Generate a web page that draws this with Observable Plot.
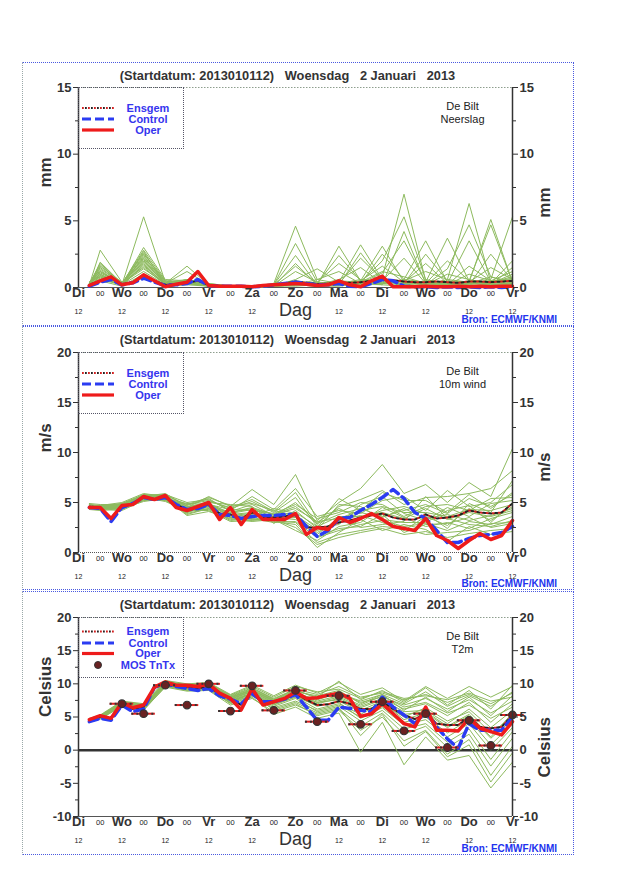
<!DOCTYPE html>
<html>
<head>
<meta charset="utf-8">
<script src="https://cdn.jsdelivr.net/npm/d3@7"></script>
<script src="https://cdn.jsdelivr.net/npm/@observablehq/plot@0.6"></script>
<style>
  body { margin: 0; background: #fff; font-family: "Liberation Sans", Arial, sans-serif; }
  #page { position: relative; width: 640px; height: 880px; }
  .panel { position: absolute; left: 22px; width: 550px; height: 262px; border: 1px dotted #4a5ae0; border-left: 1px dotted #9aa8a8; }
  .title { position: absolute; top: 5px; left: 0; width: 529px; text-align: center; font-weight: bold; font-size: 12.8px; color: #333; white-space: pre; }
  .bron { position: absolute; right: 16px; top: 251px; font-size: 10px; font-weight: bold; color: #2233ee; line-height: 12px; }
  .legend { position: absolute; left: 55px; border: 1px dotted #556; background: transparent; }
  .legend svg { display: block; }
</style>
</head>
<body>
<div id="page"></div>
<script>
// ---------- shared axes data ----------
const HOURS = [6,12,18,24,30,36,42,48,54,60,66,72,78,84,90,96,102,108,114,120,126,132,138,144,150,156,162,168,174,180,186,192,198,204,210,216,222,228,234,240];
const MEMBER_HOURS = [6,12,24,36,48,60,72,84,96,108,120,132,144,156,168,180,192,204,216,228,240];
const DAY_HOURS = [0,24,48,72,96,120,144,168,192,216,240];
const DAY_LABELS = ["Di","Wo","Do","Vr","Za","Zo","Ma","Di","Wo","Do","Vr"];
const MIDNIGHT_HOURS = [12,36,60,84,108,132,156,180,204,228];
const NOON_HOURS = [0,24,48,72,96,144,168,192,216,240];
const TITLE = "(Startdatum: 2013010112)   Woensdag   2 Januari   2013";

// ---------- Panel 1: Neerslag (mm) ----------
const rainMean = [0.2,0.5,0.7,0.25,0.4,0.9,0.5,0.2,0.25,0.35, 0.5,0.2,0.1,0.1,0.1,0.1,0.15,0.2,0.3,0.45, 0.35,0.25,0.3,0.4,0.35,0.4,0.5,0.6,0.55,0.45, 0.4,0.4,0.45,0.4,0.35,0.45,0.45,0.4,0.45,0.5];
const rainControl = [0.1,0.4,0.6,0.2,0.35,0.7,0.4,0.15,0.2,0.3, 0.6,0.15,0.1,0.1,0.1,0.05,0.1,0.2,0.3,0.4, 0.3,0.2,0.2,0.3,0.1,0.05,0.3,0.6,0.5,0.1, 0.05,0.05,0.0,0.05,0.0,0.05,0.0,0.05,0.0,0.05];
const rainOper = [0.15,0.5,0.8,0.2,0.35,0.95,0.5,0.05,0.25,0.4, 1.2,0.15,0.1,0.1,0.1,0.05,0.15,0.2,0.25,0.3, 0.25,0.15,0.2,0.5,0.2,0.05,0.5,0.85,0.05,0.05, 0.05,0.1,0.05,0.05,0.1,0.05,0.1,0.05,0.1,0.1];
const rainMembers = [
  [0.3,1.8,0.3,2.2,0.3,0.5,0.2,0.1,0.1,0.2,1.6,0.3,0.2,0.4,1.2,0.8,0.3,0.2,1.0,0.5,0.6],
  [0.2,2.8,0.4,1.5,0.2,0.3,0.1,0.1,0.0,0.1,0.4,0.2,3.1,0.5,0.3,0.2,0.1,0.1,0.3,0.8,0.4],
  [0.4,1.2,0.2,5.3,0.4,0.6,0.3,0.1,0.1,0.1,0.3,0.1,0.4,3.2,0.6,0.4,1.8,0.3,0.2,0.5,0.2],
  [0.2,1.5,0.3,2.8,0.5,0.4,0.2,0.1,0.1,0.3,4.6,0.6,0.3,0.2,0.8,7.0,0.5,0.2,0.4,0.3,1.0],
  [0.3,1.0,0.2,2.4,0.3,1.6,0.2,0.1,0.1,0.1,0.2,0.1,0.2,0.5,3.1,0.4,0.2,0.6,6.3,0.4,0.3],
  [0.1,0.9,0.1,1.8,0.2,0.3,0.1,0.0,0.1,0.2,3.3,0.4,0.2,2.6,0.5,0.3,0.4,3.7,0.5,0.2,1.5],
  [0.2,0.8,0.2,3.0,0.6,0.5,0.3,0.1,0.1,0.1,0.2,0.3,2.4,0.5,0.2,4.2,0.3,0.2,0.4,5.1,0.4],
  [0.3,1.4,0.3,2.0,0.3,0.4,0.2,0.1,0.1,0.2,2.4,0.2,0.3,0.3,2.5,0.6,3.5,0.4,0.3,0.6,5.3],
  [0.2,0.7,0.2,1.2,0.2,0.6,0.1,0.1,0.1,0.1,0.1,0.2,0.6,1.5,0.3,0.5,0.2,1.4,4.7,0.8,0.3],
  [0.4,1.1,0.3,2.6,0.4,0.3,0.2,0.1,0.1,0.2,0.5,0.3,0.2,0.4,2.0,5.3,0.6,0.3,0.2,2.5,0.5],
  [0.2,0.6,0.2,1.6,0.3,1.2,0.2,0.1,0.0,0.1,1.2,0.4,1.8,0.6,0.4,0.3,2.5,0.5,0.4,0.3,2.0],
  [0.3,1.6,0.4,2.1,0.2,0.4,0.1,0.1,0.1,0.2,0.3,0.2,0.3,2.2,0.6,0.4,0.3,2.0,0.5,4.7,0.4],
  [0.1,0.5,0.1,1.0,0.1,0.2,0.1,0.0,0.0,0.1,0.2,0.1,0.1,0.3,0.2,0.1,0.2,0.1,0.3,0.2,0.3],
  [0.2,1.3,0.2,2.3,0.4,0.5,0.2,0.1,0.1,0.1,0.6,1.4,0.4,0.3,1.1,3.5,0.4,0.3,3.5,0.4,0.8],
  [0.3,0.9,0.3,1.4,0.3,0.3,0.2,0.1,0.1,0.2,0.3,0.2,0.5,0.4,0.3,0.5,1.2,0.6,0.4,1.5,0.6],
  [0.2,1.7,0.2,2.7,0.2,0.6,0.2,0.1,0.1,0.1,0.4,0.3,0.3,0.6,0.5,2.2,0.3,0.2,1.6,0.5,1.2],
  [0.4,0.8,0.2,1.9,0.3,0.4,0.1,0.1,0.1,0.2,0.2,0.6,1.2,0.3,0.4,0.3,0.5,0.4,0.3,0.2,0.4],
  [0.2,1.2,0.3,2.5,0.5,0.3,0.2,0.1,0.1,0.1,1.8,0.2,0.2,0.5,1.6,0.4,0.2,1.0,0.6,0.3,0.2],
  [0.3,1.0,0.2,1.7,0.2,0.5,0.1,0.1,0.1,0.2,0.3,0.4,0.3,0.2,0.3,0.6,0.4,0.3,0.5,0.4,0.7],
  [0.1,1.9,0.3,2.0,0.3,0.4,0.2,0.1,0.0,0.1,0.2,0.1,0.2,0.4,0.5,0.2,0.3,0.2,0.4,0.3,0.5]
];

// ---------- Panel 2: 10m wind (m/s) ----------
const windMean = [4.6,4.5,3.4,4.6,4.9,5.5,5.3,5.5,4.8,4.3, 4.5,4.8,3.9,3.8,3.4,4.0,3.5,3.5,3.6,3.8, 2.5,2.5,2.6,3.0,3.2,3.5,3.7,3.9,3.5,3.3, 3.3,3.8,3.4,3.5,3.7,4.2,4.0,3.9,4.0,4.9];
const windControl = [4.5,4.4,3.1,4.5,4.9,5.5,5.3,5.5,4.8,4.3, 4.4,4.8,3.8,3.7,3.4,3.6,3.7,3.7,3.8,3.8, 2.6,1.6,2.2,3.4,3.5,4.2,4.8,5.5,6.3,5.4, 4.0,3.4,2.2,1.0,1.0,1.4,1.7,1.8,2.0,2.6];
const windOper = [4.5,4.5,3.4,4.7,4.8,5.6,5.3,5.7,4.5,4.2, 4.6,5.0,3.3,4.5,2.8,4.3,3.3,3.3,3.3,3.9, 1.8,2.5,2.3,3.5,3.0,3.4,3.9,3.3,2.6,2.4, 2.2,3.4,1.7,1.2,0.4,1.2,1.9,1.3,1.7,3.2];
const windMembers = [
  [4.7,4.6,4.9,5.8,5.7,4.8,5.2,4.4,5.1,4.0,5.5,2.6,4.6,5.3,6.2,4.8,5.5,5.6,5.9,6.4,8.2],
  [4.4,4.3,4.2,5.2,5.3,3.9,4.4,3.2,3.4,3.0,3.1,1.5,2.2,2.8,3.2,2.6,2.9,2.2,3.1,2.8,3.6],
  [4.8,4.7,5.0,5.9,5.6,4.5,5.6,4.6,6.3,4.8,7.8,3.2,5.0,6.4,8.8,5.9,6.8,5.0,7.0,5.6,10.4],
  [4.5,4.4,4.5,5.4,5.2,4.0,4.9,3.6,3.8,3.3,2.5,0.8,1.5,2.0,2.4,1.8,2.1,1.5,1.9,2.2,2.4],
  [4.6,4.6,4.7,5.6,5.9,4.6,4.6,4.0,4.4,3.8,4.6,2.9,3.8,4.4,3.6,4.2,4.8,3.9,5.4,4.6,5.8],
  [4.3,4.2,4.4,5.1,5.4,3.7,4.1,3.4,3.1,3.3,2.2,1.2,2.6,3.0,4.5,3.5,2.6,3.0,2.4,3.4,4.0],
  [4.9,4.8,4.8,5.7,5.8,5.0,5.3,4.2,5.6,4.3,6.4,3.6,4.2,3.9,5.2,5.6,4.2,6.2,4.6,5.0,6.8],
  [4.5,4.5,4.6,5.5,5.1,4.2,4.7,3.8,4.0,3.6,3.6,2.0,3.2,3.7,3.0,2.2,3.6,2.7,4.4,3.2,4.6],
  [4.6,4.4,4.3,5.3,5.5,4.4,5.0,4.8,4.6,2.9,4.2,2.4,2.8,4.8,5.6,3.9,3.2,4.5,3.6,4.9,5.2],
  [4.4,4.5,4.8,5.6,5.6,4.1,4.5,3.5,3.6,4.4,3.9,1.8,3.5,2.5,2.8,3.1,5.6,3.4,2.8,2.6,3.2],
  [4.7,4.7,4.6,5.4,5.3,4.7,5.4,4.1,4.8,3.7,5.0,3.0,4.4,3.4,4.2,4.6,3.9,2.4,4.9,4.0,7.2],
  [4.5,4.3,4.5,5.5,5.7,4.3,4.3,3.3,3.5,3.1,2.8,0.5,2.0,3.3,2.2,2.8,2.3,1.1,2.6,1.8,2.1],
  [4.8,4.6,4.7,5.8,5.4,4.9,4.8,4.3,4.2,3.9,4.8,3.4,4.0,5.0,4.8,3.6,4.6,4.8,4.2,5.4,5.5],
  [4.6,4.5,4.5,5.2,5.6,4.0,4.6,3.7,3.9,3.5,3.3,2.2,3.0,4.0,3.5,4.4,3.4,3.8,3.2,3.7,4.4],
  [4.5,4.6,4.9,5.7,5.2,4.5,5.1,4.5,5.3,4.1,6.0,2.8,5.4,4.2,6.0,5.2,5.2,4.0,5.8,4.4,6.0],
  [4.4,4.4,4.4,5.3,5.5,4.2,4.2,3.1,3.2,3.4,3.5,1.6,2.4,2.6,3.8,2.0,2.8,2.9,3.5,2.5,2.9],
  [4.7,4.5,4.6,5.5,5.8,4.6,4.9,3.9,4.3,3.6,4.0,2.6,3.6,3.6,4.0,3.4,4.4,3.3,4.0,3.6,4.2],
  [4.6,4.7,4.8,5.6,5.3,4.8,5.5,4.7,4.9,4.2,3.7,2.3,4.8,4.6,3.3,3.0,3.0,4.2,4.7,3.0,5.0],
  [4.5,4.4,4.4,5.4,5.4,3.8,4.4,3.5,3.3,3.2,3.0,1.0,1.8,2.2,2.6,2.4,1.8,2.0,2.2,2.9,3.0],
  [4.6,4.6,4.7,5.5,5.6,4.4,4.8,4.0,4.5,3.8,4.4,3.1,3.4,4.2,4.6,4.0,4.0,3.6,4.3,4.2,4.8]
];

// ---------- Panel 3: T2m (Celsius) ----------
const tempMean = [4.5,5.0,4.7,7.0,6.2,6.5,9.4,10.1,9.7,9.5, 9.3,9.6,8.4,7.8,6.8,8.8,7.3,7.3,7.7,8.5, 7.6,6.8,6.9,7.4,7.0,6.2,6.2,7.3,6.2,5.3, 4.7,5.5,4.0,3.8,3.8,5.0,3.5,3.3,3.5,5.3];
const tempControl = [4.3,4.8,4.5,6.8,5.8,6.2,9.5,10.0,9.6,9.3, 9.0,9.3,8.2,7.7,7.0,8.5,7.3,7.3,7.7,8.4, 6.5,4.5,4.5,6.5,6.3,6.0,5.8,8.0,6.5,5.3, 4.0,5.8,3.5,1.7,0.3,4.0,3.0,3.0,3.0,5.0];
const tempOper = [4.6,5.2,4.8,7.2,6.4,6.8,9.5,10.3,9.8,9.8, 9.6,10.0,8.6,7.8,6.1,9.3,6.8,7.3,7.8,8.8, 7.8,7.9,8.3,8.6,7.8,5.1,5.5,7.0,5.5,4.0, 3.5,6.5,3.0,3.0,2.9,4.8,3.3,2.8,2.3,4.3];
const tempMembers = [
  [4.6,5.2,7.2,6.8,10.2,9.7,10.0,8.2,9.4,7.8,9.2,8.4,9.6,8.0,8.6,7.6,8.4,7.2,8.4,7.0,8.6],
  [4.3,4.9,6.9,6.3,9.8,9.3,9.4,7.4,8.4,6.6,7.8,5.8,6.6,4.4,6.0,3.2,4.0,1.2,3.2,-1.4,2.8],
  [4.5,5.1,7.1,6.6,10.4,9.8,9.8,8.0,9.0,7.5,8.8,7.4,8.2,6.8,8.2,6.5,7.2,5.6,6.8,4.8,6.5],
  [4.4,4.8,6.8,6.4,9.9,9.2,9.2,7.2,8.6,6.0,7.0,5.2,6.0,3.0,5.0,1.4,3.0,-0.6,1.6,-3.8,0.6],
  [4.7,5.0,7.0,6.7,10.1,9.6,9.7,7.9,9.2,7.6,9.0,8.0,10.4,7.6,9.0,7.2,9.4,6.8,9.0,6.2,9.8],
  [4.2,4.7,6.6,6.0,9.6,9.0,9.3,7.0,8.0,5.4,6.5,4.8,5.6,-0.3,4.2,-2.2,2.0,-1.5,-0.8,-5.7,-1.8],
  [4.5,5.2,7.3,6.9,10.3,9.9,10.1,8.3,9.6,8.0,9.6,8.8,9.2,7.8,8.8,7.8,8.2,7.6,8.6,7.4,8.0],
  [4.6,5.1,7.0,6.5,10.0,9.4,9.5,7.6,8.6,7.0,8.2,6.6,7.4,5.8,7.0,5.0,6.4,4.4,5.8,2.6,5.0],
  [4.4,4.9,6.9,6.2,9.7,9.1,9.1,7.3,8.2,6.4,7.4,6.0,6.8,5.0,6.6,4.2,5.0,2.6,4.6,0.8,4.0],
  [4.8,5.3,7.4,7.0,10.5,10.0,10.2,8.4,9.8,8.2,9.8,8.6,10.2,8.4,9.4,7.4,9.6,7.8,9.6,8.0,9.6],
  [4.5,5.0,7.1,6.6,10.1,9.5,9.6,7.7,8.8,7.2,8.4,7.0,7.8,6.4,7.6,5.8,6.0,4.0,6.2,3.4,6.0],
  [4.3,4.8,6.7,6.1,9.5,8.9,9.0,6.8,7.8,5.8,6.8,5.4,6.2,3.6,5.6,2.4,3.6,0.4,2.4,-2.4,1.8],
  [4.6,5.1,7.2,6.8,10.2,9.8,9.9,8.1,9.3,7.7,9.1,7.8,8.8,7.2,8.0,6.8,7.8,6.2,7.6,5.6,7.4],
  [4.4,4.9,6.8,6.3,9.9,9.3,9.3,7.5,8.5,6.8,8.0,6.2,7.0,5.4,7.2,4.6,5.6,3.4,5.2,1.8,4.6],
  [4.7,5.2,7.2,6.7,10.3,9.7,9.8,8.0,9.1,7.4,8.6,7.6,8.6,7.4,8.4,7.0,8.8,6.6,8.2,6.6,8.8],
  [4.3,4.7,6.7,6.2,9.7,9.2,9.2,7.1,8.2,6.2,7.2,5.6,6.4,2.2,5.4,0.6,2.8,-1.0,0.8,-4.8,-0.4],
  [4.5,5.0,7.0,6.5,10.0,9.5,9.6,7.8,8.9,7.3,8.6,7.2,8.0,6.6,7.8,6.2,7.0,5.2,7.2,4.2,7.0],
  [4.6,5.1,7.1,6.6,10.1,9.6,9.7,7.9,9.0,7.5,8.8,8.2,9.0,7.0,8.4,6.0,8.0,5.8,8.0,5.2,8.2],
  [4.4,4.8,6.9,6.4,9.8,9.4,9.4,7.4,8.5,6.9,8.0,6.8,7.2,4.8,6.4,3.8,4.6,2.0,4.0,0.0,3.4],
  [4.5,5.0,7.0,6.6,10.0,9.5,9.7,7.7,8.8,7.1,8.3,7.2,7.6,6.0,7.4,5.4,5.8,3.6,5.4,2.0,5.6]
];
const mosHours = [24,36,48,60,72,84,96,108,120,132,144,156,168,180,192,204,216,228,240];
const mosTemp = [7.0,5.5,9.8,6.8,10.0,5.9,9.7,6.0,9.0,4.3,8.2,3.9,7.3,2.9,5.5,0.4,4.5,0.7,5.3];

// ---------- colours ----------
const C_MEMBER = "#8dba5e", C_RED = "#ee1b1b", C_BLUE = "#2b3cf2", C_DARK = "#333";

function legendHTML(withMos) {
  const ys = withMos ? [13.5, 25, 35.5, 47] : [20, 31, 42];
  const h = withMos ? 59 : 60;
  let s = `<svg width="104" height="${h}" xmlns="http://www.w3.org/2000/svg">`;
  const lab = (y, t) => `<text x="69" y="${y}" dy="0.35em" text-anchor="middle" font-family="Liberation Sans, Arial" font-weight="bold" font-size="11" fill="#3535ee">${t}</text>`;
  s += `<line x1="3" x2="35" y1="${ys[0]}" y2="${ys[0]}" stroke="#d42020" stroke-width="2" stroke-dasharray="1.8,4.2"/>`;
  s += `<line x1="3" x2="35" y1="${ys[0]}" y2="${ys[0]}" stroke="#222" stroke-width="2" stroke-dasharray="1.8,4.2" stroke-dashoffset="3"/>`;
  s += lab(ys[0], "Ensgem");
  s += `<line x1="3" x2="35" y1="${ys[1]}" y2="${ys[1]}" stroke="${C_BLUE}" stroke-width="3.2" stroke-dasharray="9,4"/>`;
  s += lab(ys[1], "Control");
  s += `<line x1="3" x2="35" y1="${ys[2]}" y2="${ys[2]}" stroke="${C_RED}" stroke-width="3.2"/>`;
  s += lab(ys[2], "Oper");
  if (withMos) {
    s += `<circle cx="19" cy="${ys[3]}" r="3.5" fill="#6a2222" stroke="#333"/>`;
    s += lab(ys[3], "MOS TnTx");
  }
  return s + "</svg>";
}

function makePlot(cfg) {
  const [y0, y1] = cfg.yDomain;
  const memberRows = cfg.members.flatMap((vals, m) => vals.map((v, i) => ({h: MEMBER_HOURS[i], v, m})));
  const series = arr => arr.map((v, i) => ({h: HOURS[i], v}));
  const fmt = d => String(d);
  const marks = [
    Plot.ruleY([y1], {stroke: "#8e9e8e", strokeDasharray: "1.5,1.5"}),
    ...cfg.baseMarks,
    Plot.line(memberRows, {x: "h", y: "v", z: "m", stroke: C_MEMBER, strokeWidth: 1}),
    Plot.line(series(cfg.mean), {x: "h", y: "v", stroke: "#d42020", strokeWidth: 2, strokeDasharray: "1.8,4.2"}),
    Plot.line(series(cfg.mean), {x: "h", y: "v", stroke: "#222", strokeWidth: 2, strokeDasharray: "1.8,4.2", strokeDashoffset: 3}),
    Plot.line(series(cfg.control), {x: "h", y: "v", stroke: C_BLUE, strokeWidth: 3.5, strokeDasharray: "9,5"}),
    Plot.line(series(cfg.oper), {x: "h", y: "v", stroke: C_RED, strokeWidth: 3.5, strokeLinejoin: "round"}),
    ...(cfg.extraMarks || []),
    Plot.ruleX([0, 240], {stroke: C_DARK, strokeWidth: 1.5}),
    Plot.axisY(cfg.yTicks, {anchor: "left", tickSize: 5, tickPadding: 2, tickFormat: fmt, fontSize: 13, fontWeight: "bold", color: C_DARK, label: null}),
    Plot.axisY(cfg.yTicks, {anchor: "right", tickSize: 5, tickPadding: 2, tickFormat: fmt, fontSize: 13, fontWeight: "bold", color: C_DARK, label: null}),
    Plot.axisY(cfg.yMinor, {anchor: "left", tickSize: 3, tickFormat: () => "", color: C_DARK, label: null}),
    Plot.axisY(cfg.yMinor, {anchor: "right", tickSize: 3, tickFormat: () => "", color: C_DARK, label: null}),
    Plot.text(DAY_HOURS, {x: d => d, text: (d, i) => DAY_LABELS[i], frameAnchor: "bottom", dy: 9, fontSize: 13, fontWeight: "bold", fill: C_DARK}),
    Plot.text(MIDNIGHT_HOURS, {x: d => d, text: () => "00", frameAnchor: "bottom", dy: 8, fontSize: 7.5, fill: "#222"}),
    Plot.text(NOON_HOURS, {x: d => d, text: () => "12", frameAnchor: "bottom", dy: 26, fontSize: 7, fill: "#222"}),
    Plot.text(["Dag"], {text: d => d, frameAnchor: "bottom", dy: 28.5, fontSize: 18, fill: C_DARK}),
    Plot.text([cfg.ylabel], {text: d => d, frameAnchor: "left", dx: -33, rotate: -90, fontSize: 17, fontWeight: "bold", fill: C_DARK}),
    Plot.text([cfg.ylabel], {text: d => d, frameAnchor: "right", dx: 32, rotate: -90, fontSize: 17, fontWeight: "bold", fill: C_DARK}),
    Plot.text([cfg.site[0]], {text: d => d, frameAnchor: "top-right", textAnchor: "middle", dx: -50, dy: 15, fontSize: 11, fill: "#222"}),
    Plot.text([cfg.site[1]], {text: d => d, frameAnchor: "top-right", textAnchor: "middle", dx: -50, dy: 28, fontSize: 11, fill: "#222"})
  ];
  return Plot.plot({
    width: 550,
    height: 262,
    marginLeft: 55,
    marginRight: 61,
    marginTop: cfg.marginTop,
    marginBottom: cfg.marginBottom,
    x: {domain: [0, 240], axis: null},
    y: {domain: [y0, y1]},
    style: {background: "transparent", overflow: "visible", fontFamily: "Liberation Sans, Arial, sans-serif", color: C_DARK, position: "absolute", left: "0px", top: "0px"},
    marks
  });
}

const panels = [
  {
    top: 62, yDomain: [0, 15], yTicks: [0, 5, 10, 15], yMinor: [2.5, 7.5, 12.5],
    marginTop: 24, marginBottom: 38, ylabel: "mm", site: ["De Bilt", "Neerslag"],
    members: rainMembers, mean: rainMean, control: rainControl, oper: rainOper,
    baseMarks: [Plot.ruleY([0], {stroke: "#555", strokeWidth: 1})], mos: false
  },
  {
    top: 326, yDomain: [0, 20], yTicks: [0, 5, 10, 15, 20], yMinor: [2.5, 7.5, 12.5, 17.5],
    marginTop: 25, marginBottom: 37, ylabel: "m/s", site: ["De Bilt", "10m wind"],
    members: windMembers, mean: windMean, control: windControl, oper: windOper,
    baseMarks: [Plot.ruleY([0], {stroke: "#555", strokeWidth: 1.2, strokeDasharray: "1,1"})], mos: false
  },
  {
    top: 591, yDomain: [-10, 20], yTicks: [-10, -5, 0, 5, 10, 15, 20], yMinor: [-7.5, -2.5, 2.5, 7.5, 12.5, 17.5],
    marginTop: 25, marginBottom: 38, ylabel: "Celsius", site: ["De Bilt", "T2m"],
    members: tempMembers, mean: tempMean, control: tempControl, oper: tempOper,
    baseMarks: [Plot.ruleY([-10], {stroke: "#555", strokeWidth: 1}), Plot.ruleY([0], {stroke: C_DARK, strokeWidth: 2.5})],
    extraMarks: (() => {
      const mos = mosHours.map((h, i) => ({h, v: mosTemp[i]}));
      return [
        Plot.ruleY(mos, {y: "v", x1: d => d.h - 6.5, x2: d => d.h + 6.5, stroke: "#e02020", strokeWidth: 2}),
        Plot.ruleY(mos, {y: "v", x1: d => d.h - 6.5, x2: d => d.h + 6.5, stroke: "#333", strokeWidth: 2, strokeDasharray: "2,3"}),
        Plot.dot(mos, {x: "h", y: "v", r: 3.8, fill: "#6a2222", stroke: "#333", strokeWidth: 1.2})
      ];
    })(),
    mos: true
  }
];

const page = document.getElementById("page");
for (const cfg of panels) {
  const div = document.createElement("div");
  div.className = "panel";
  div.style.top = cfg.top + "px";
  div.appendChild(makePlot(cfg));
  const title = document.createElement("div");
  title.className = "title";
  title.textContent = TITLE;
  div.appendChild(title);
  const leg = document.createElement("div");
  leg.className = "legend";
  leg.style.top = cfg.marginTop + "px";
  leg.innerHTML = legendHTML(cfg.mos);
  div.appendChild(leg);
  const bron = document.createElement("div");
  bron.className = "bron";
  bron.textContent = "Bron: ECMWF/KNMI";
  div.appendChild(bron);
  page.appendChild(div);
}
</script>
</body>
</html>
